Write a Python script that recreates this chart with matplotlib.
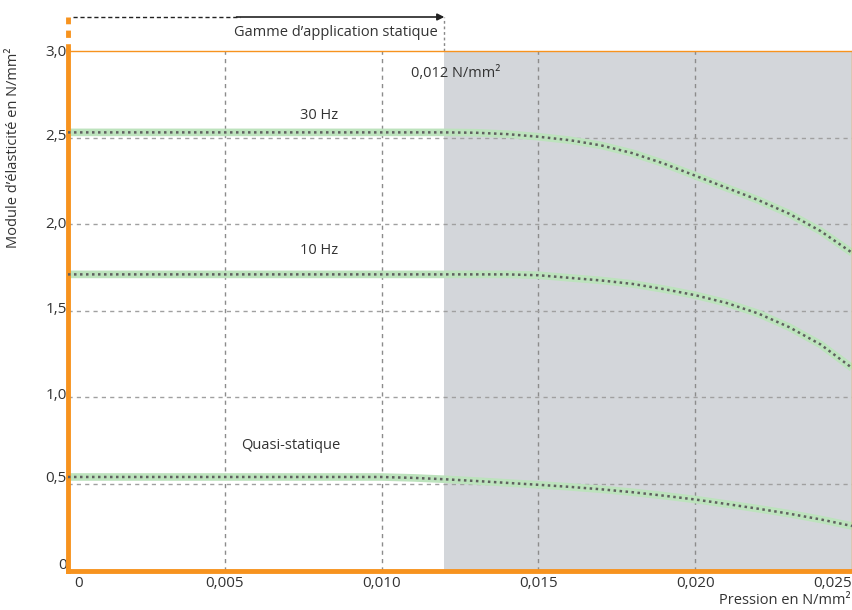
import matplotlib
matplotlib.use("Agg")
import matplotlib.pyplot as plt
from matplotlib.transforms import ScaledTranslation

# pressure (N/mm2) and elastic modulus (N/mm2)
p_30hz = [0, 0.005, 0.010, 0.012, 0.013, 0.014, 0.015, 0.016, 0.017, 0.018, 0.019,
          0.020, 0.021, 0.022, 0.023, 0.024, 0.025]
e_30hz = [2.53, 2.53, 2.53, 2.53, 2.528, 2.52, 2.505, 2.485, 2.455, 2.41, 2.35,
          2.28, 2.21, 2.14, 2.06, 1.96, 1.835]

p_10hz = [0, 0.005, 0.010, 0.012, 0.014, 0.015, 0.016, 0.017, 0.018, 0.019,
          0.020, 0.021, 0.022, 0.023, 0.024, 0.025]
e_10hz = [1.71, 1.71, 1.71, 1.71, 1.71, 1.705, 1.69, 1.675, 1.655, 1.625,
          1.59, 1.545, 1.485, 1.405, 1.305, 1.17]

p_quasi = [0, 0.005, 0.010, 0.011, 0.012, 0.013, 0.014, 0.015, 0.016, 0.017, 0.018,
           0.019, 0.020, 0.021, 0.022, 0.023, 0.024, 0.025]
e_quasi = [0.54, 0.54, 0.54, 0.535, 0.527, 0.517, 0.506, 0.495, 0.483, 0.469, 0.452,
           0.432, 0.41, 0.384, 0.357, 0.328, 0.295, 0.257]

series_labels = ["30 Hz", "10 Hz", "Quasi-statique"]
label_pos = [(0.0080, 2.63), (0.0080, 1.85), (0.0071, 0.72)]

x_ticks = [0, 0.005, 0.010, 0.015, 0.020, 0.025]
x_ticklabels = ["0", "0,005", "0,010", "0,015", "0,020", "0,025"]
y_ticks = [0, 0.5, 1.0, 1.5, 2.0, 2.5, 3.0]
y_ticklabels = ["0", "0,5", "1,0", "1,5", "2,0", "2,5", "3,0"]
static_limit = 0.012

plt.rcParams["font.family"] = ["Open Sans", "DejaVu Sans"]
TXT = "#333333"
ORANGE = "#f7931e"

fig = plt.figure(figsize=(8.52, 6.10), dpi=100)
ax = fig.add_axes([68 / 852, 1 - 570.5 / 610, 784 / 852, 519.5 / 610])
ax.set_xlim(0, 0.025)
ax.set_ylim(0, 3.0)

# shaded region beyond the static range
ax.axvspan(static_limit, 0.025, color="#d3d6da", lw=0, zorder=0)

# grid
for x in x_ticks[1:-1]:
    ax.axvline(x, color="#8c8c8c", lw=1, ls=(0, (3, 3)), zorder=1)
for y in y_ticks[1:-1]:
    ax.axhline(y, color="#a0a0a0", lw=1, ls=(0, (3, 3)), zorder=1)

for p, e in [(p_30hz, e_30hz), (p_10hz, e_10hz), (p_quasi, e_quasi)]:
    ax.plot(p, e, color="#bde3bd", lw=5.5, solid_capstyle="butt", zorder=2)
    ax.plot(p, e, color="#5f5f5f", lw=1.8, ls=(0, (1, 1.4)), zorder=3)

for lab, (x, y) in zip(series_labels, label_pos):
    ax.text(x, y, lab, fontsize=10.5, color=TXT, ha="center", va="center")

ax.text(0.01235, 2.87, "0,012 N/mm²", fontsize=10.5, color=TXT, ha="center", va="center")

# spines
for s in ["top", "right"]:
    ax.spines[s].set_color(ORANGE)
    ax.spines[s].set_linewidth(1.0)
for s in ["left", "bottom"]:
    ax.spines[s].set_color(ORANGE)
    ax.spines[s].set_linewidth(3.5)
    ax.spines[s].set_capstyle("projecting")

ax.tick_params(length=0, colors=TXT, labelsize=11)
ax.set_xticks(x_ticks)
ax.set_xticklabels(x_ticklabels)
ax.set_yticks(y_ticks)
ax.set_yticklabels(y_ticklabels)
ax.tick_params(axis="y", pad=1)
ax.tick_params(axis="x", pad=4)
xl = ax.get_xticklabels()
xl[0].set_ha("left")
xl[0].set_transform(xl[0].get_transform() + ScaledTranslation(0.06, 0, fig.dpi_scale_trans))
xl[-1].set_ha("right")
for lbl, dy in zip(ax.get_yticklabels(), [7, 7, 4, 3, 2, 3, 1]):
    lbl.set_transform(lbl.get_transform() + ScaledTranslation(0, dy / 100, fig.dpi_scale_trans))

# dotted orange extension of the left axis
y_top = (570.5 - 17) / 519.5
ax.plot([0, 0], [1.0, y_top], transform=ax.transAxes, color=ORANGE, lw=3.5,
        ls=(0, (1.5, 1.3)), clip_on=False, zorder=5)

# static range arrow
xs = static_limit / 0.025
ax.plot([0.006, 0.22], [y_top, y_top], transform=ax.transAxes, color="#222222", lw=1,
        ls=(0, (3, 2)), clip_on=False)
ax.annotate("", xy=(xs, y_top), xytext=(0.215, y_top), xycoords="axes fraction",
            arrowprops=dict(arrowstyle="-|>", color="#222222", lw=1.2,
                            mutation_scale=10, shrinkA=0, shrinkB=0))
ax.plot([xs, xs], [1.0, y_top], transform=ax.transAxes, color="#888888", lw=1,
        ls=(0, (2, 2)), clip_on=False)
ax.text(xs - 0.008, (570.5 - 33) / 519.5, "Gamme d’application statique", transform=ax.transAxes,
        fontsize=10.5, color=TXT, ha="right", va="center")

fig.text(14 / 852, 1 - 148 / 610, "Module d’élasticité en N/mm²", rotation=90,
         fontsize=10.5, color=TXT, ha="center", va="center")
fig.text(851 / 852, 1 - 600 / 610, "Pression en N/mm²", fontsize=10.5, color=TXT,
         ha="right", va="center")

fig.savefig("out.png", dpi=100)
